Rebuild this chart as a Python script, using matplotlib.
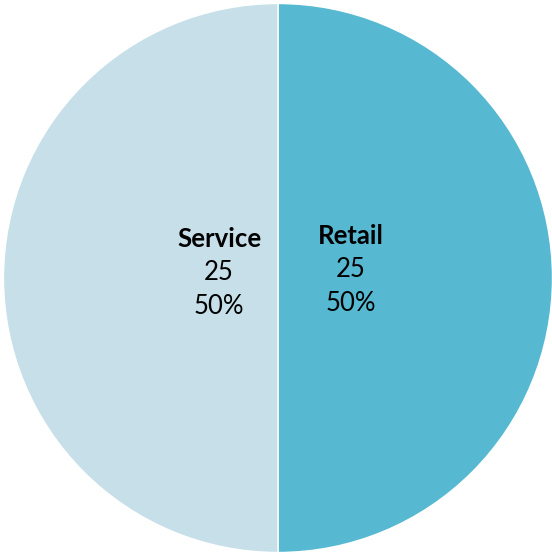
import matplotlib
matplotlib.use("Agg")
import matplotlib.pyplot as plt

categories = ["Retail", "Service"]
values = [25, 25]
colors = ["#57B9D1", "#C6DFE8"]

total = sum(values)
percents = [v / total * 100 for v in values]

W, H = 552, 554
fig = plt.figure(figsize=(W / 100, H / 100), dpi=100)
cx, cy, r = 278, 278, 274.5
ax = fig.add_axes([(cx - r) / W, (H - cy - r) / H, 2 * r / W, 2 * r / H])

wedges, _ = ax.pie(values, colors=colors, startangle=90, counterclock=False,
                   radius=1.0, wedgeprops=dict(edgecolor="white", linewidth=1))
ax.set_xlim(-1, 1)
ax.set_ylim(-1, 1)
ax.set_aspect("auto")
ax.axis("off")

# label anchor positions (offset from centre, in pie radii)
label_x = [0.265, -0.215]
label_y = [0.03, 0.02]
font = ["Lato", "DejaVu Sans"]
fs = 18.5
lh = 34 / r  # line spacing in axis units
for cat, val, pct, lx, ly in zip(categories, values, percents, label_x, label_y):
    ax.text(lx, ly + lh, cat, ha="center", va="center", fontsize=fs,
            fontweight="bold", family=font)
    ax.text(lx, ly, f"{val}", ha="center", va="center", fontsize=fs, family=font)
    ax.text(lx, ly - lh, f"{pct:.0f}%", ha="center", va="center", fontsize=fs,
            family=font)

fig.savefig("out.png", dpi=100)
